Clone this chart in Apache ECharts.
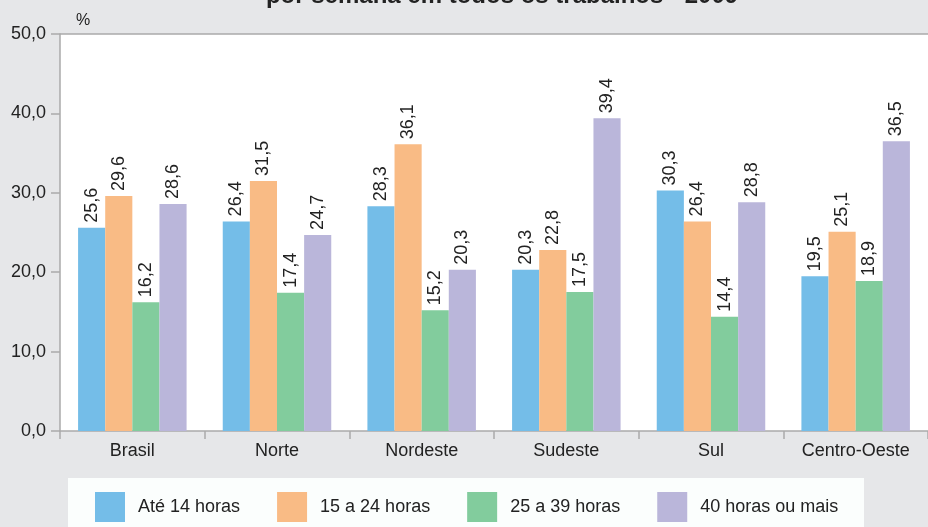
<!DOCTYPE html>
<html>
<head>
<meta charset="utf-8">
<script src="https://cdn.jsdelivr.net/npm/echarts@6/dist/echarts.min.js"></script>
<style>
  html, body { margin: 0; padding: 0; background: #e6e7e9; }
  #chart { width: 928px; height: 527px; }
</style>
</head>
<body>
<div id="chart"></div>
<script>
var regioes = ['Brasil', 'Norte', 'Nordeste', 'Sudeste', 'Sul', 'Centro-Oeste'];
var ate14 = [25.6, 26.4, 28.3, 20.3, 30.3, 19.5];
var de15a24 = [29.6, 31.5, 36.1, 22.8, 26.4, 25.1];
var de25a39 = [16.2, 17.4, 15.2, 17.5, 14.4, 18.9];
var mais40 = [28.6, 24.7, 20.3, 39.4, 28.8, 36.5];
var nomes = ['Até 14 horas', '15 a 24 horas', '25 a 39 horas', '40 horas ou mais'];
var cores = ['#74bde8', '#f9bb85', '#82cc9d', '#bab6da'];

var fonte = 'Liberation Sans Narrow, Arial Narrow, Liberation Sans, sans-serif';

function fmt(v) { return v.toFixed(1).replace('.', ','); }

function serie(nome, dados, cor) {
    return {
        name: nome,
        type: 'bar',
        data: dados,
        barGap: '0%',
        barCategoryGap: '25%',
        itemStyle: { color: cor },
        label: {
            show: true,
            position: 'top',
            rotate: 90,
            align: 'left',
            verticalAlign: 'middle',
            distance: 5,
            color: '#222',
            fontSize: 18,
            fontFamily: 'Liberation Sans, Arial, sans-serif',
            formatter: function (p) { return fmt(p.value); }
        }
    };
}

var chart = echarts.init(document.getElementById('chart'));
chart.setOption({
    backgroundColor: '#e6e7e9',
    animation: false,
    title: {
        text: 'por semana em todos os trabalhos - 2009',
        left: 497,
        textAlign: 'center',
        top: -21,
        textStyle: { fontSize: 24, fontWeight: 'bold', color: '#222', fontFamily: 'Liberation Sans, Arial, sans-serif' }
    },
    graphic: [{
        type: 'rect',
        shape: { x: 68, y: 478, width: 796, height: 60 },
        style: { fill: '#fbfefd' },
        z: 0
    }],
    legend: {
        data: nomes,
        left: 90,
        top: 487,
        itemWidth: 30,
        itemHeight: 30,
        itemGap: 37,
        icon: 'rect',
        textStyle: {
            fontSize: 18,
            color: '#222',
            padding: [0, 0, 0, 8],
            fontFamily: fonte
        }
    },
    grid: {
        left: 60, right: 0, top: 34, bottom: 96,
        show: true, backgroundColor: '#ffffff', borderWidth: 0
    },
    xAxis: {
        type: 'category',
        data: regioes,
        axisLine: { lineStyle: { color: '#aaa', width: 1.5 } },
        axisTick: { show: true, length: 8, lineStyle: { color: '#aaa', width: 1.5 } },
        axisLabel: {
            color: '#222',
            fontSize: 18,
            margin: 11,
            fontFamily: fonte
        }
    },
    yAxis: {
        type: 'value',
        min: 0,
        max: 50,
        interval: 10,
        name: '%',
        nameLocation: 'end',
        nameGap: 5,
        nameTextStyle: {
            align: 'left', padding: [0, 0, 0, 16], color: '#222', fontSize: 16,
            fontFamily: fonte
        },
        axisLine: { show: true, lineStyle: { color: '#aaa', width: 1.5 } },
        axisTick: { show: true, length: 9, lineStyle: { color: '#aaa', width: 1.5 } },
        axisLabel: {
            color: '#222',
            fontSize: 18,
            margin: 14,
            fontFamily: fonte,
            formatter: function (v) { return fmt(v); }
        },
        splitLine: {
            show: true,
            lineStyle: { color: ['rgba(0,0,0,0)', 'rgba(0,0,0,0)', 'rgba(0,0,0,0)', 'rgba(0,0,0,0)', 'rgba(0,0,0,0)', '#aaa'], width: 1.5 }
        }
    },
    series: [
        serie(nomes[0], ate14, cores[0]),
        serie(nomes[1], de15a24, cores[1]),
        serie(nomes[2], de25a39, cores[2]),
        serie(nomes[3], mais40, cores[3])
    ]
});
</script>
</body>
</html>
